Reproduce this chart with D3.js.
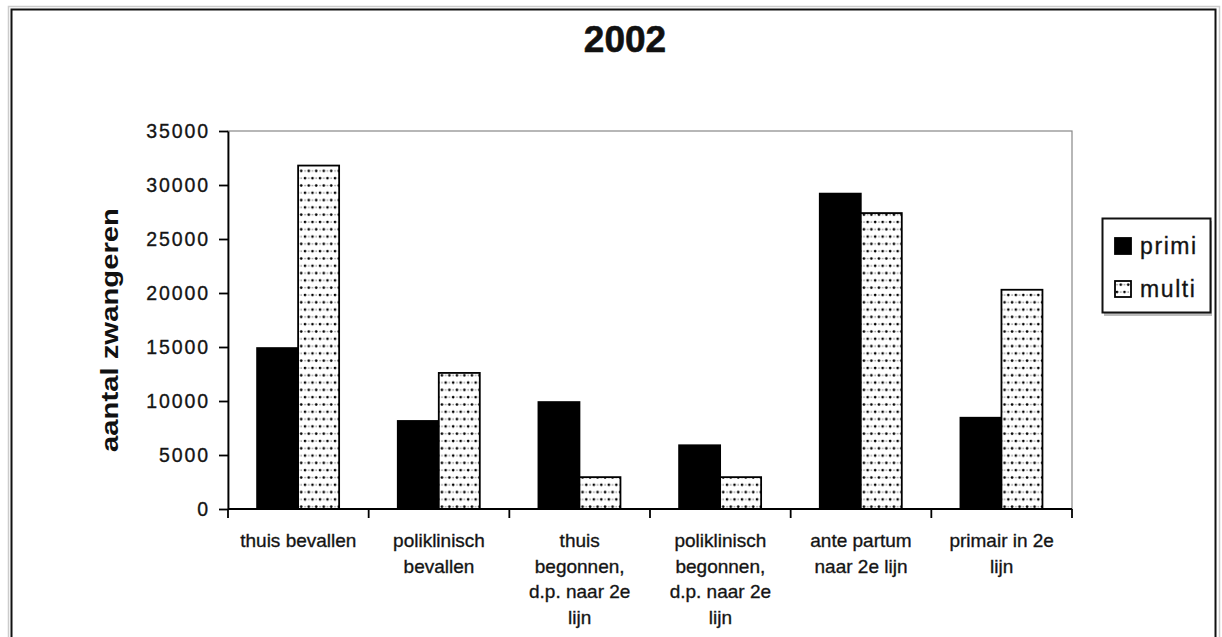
<!DOCTYPE html>
<html>
<head>
<meta charset="utf-8">
<script src="https://cdn.jsdelivr.net/npm/d3@7"></script>
<style>
    body { margin: 0; background: #fff; }
    text { font-family: "Liberation Sans", Arial, sans-serif; fill: #111; }
</style>
</head>
<body>
<div id="chart"></div>
<script>
// chart data
const title = "2002";
const yLabel = "aantal zwangeren";
const categories = [
    "thuis bevallen",
    "poliklinisch bevallen",
    "thuis begonnen, d.p. naar 2e lijn",
    "poliklinisch begonnen, d.p. naar 2e lijn",
    "ante partum naar 2e lijn",
    "primair in 2e lijn"
];
// how each category label wraps under the axis
const categoryLines = [
    ["thuis bevallen"],
    ["poliklinisch", "bevallen"],
    ["thuis", "begonnen,", "d.p. naar 2e", "lijn"],
    ["poliklinisch", "begonnen,", "d.p. naar 2e", "lijn"],
    ["ante partum", "naar 2e lijn"],
    ["primair in 2e", "lijn"]
];
const series = ["primi", "multi"];
const primi = [14900, 8150, 9900, 5900, 29200, 8450];
const multi = [31800, 12600, 2950, 2950, 27400, 20300];
const yTicks = [0, 5000, 10000, 15000, 20000, 25000, 30000, 35000];

const width = 1222;
const height = 637;
const margin = { top: 131, right: 150, bottom: 128, left: 228 };

const svg = d3.select("#chart").append("svg")
    .attr("width", width)
    .attr("height", height);

// dotted fill used for "multi"
const defs = svg.append("defs");
const pat = defs.append("pattern")
    .attr("id", "dots")
    .attr("patternUnits", "userSpaceOnUse")
    .attr("width", 7.5)
    .attr("height", 14.6);
pat.append("rect").attr("width", 7.5).attr("height", 14.6).attr("fill", "#fff");
pat.append("circle").attr("cx", 2).attr("cy", 3).attr("r", 1.35).attr("fill", "#000");
pat.append("circle").attr("cx", 5.75).attr("cy", 10.3).attr("r", 1.35).attr("fill", "#000");
pat.append("circle").attr("cx", 5.75).attr("cy", 3).attr("r", 0.9).attr("fill", "#999");
pat.append("circle").attr("cx", 2).attr("cy", 10.3).attr("r", 0.9).attr("fill", "#999");

// outer chart frame
svg.append("rect")
    .attr("x", 8.5).attr("y", 6.5)
    .attr("width", 1211).attr("height", 700)
    .attr("fill", "none").attr("stroke", "#ccc").attr("stroke-width", 1.5);
svg.append("rect")
    .attr("x", 11.5).attr("y", 9.5)
    .attr("width", 1204).attr("height", 700)
    .attr("fill", "none").attr("stroke", "#111").attr("stroke-width", 2);

svg.append("text")
    .attr("x", 625)
    .attr("y", 52)
    .attr("text-anchor", "middle")
    .attr("font-size", 37)
    .attr("font-weight", "bold")
    .attr("stroke", "#111")
    .attr("stroke-width", 0.6)
    .text(title);

const x = d3.scaleBand()
    .domain(categories)
    .range([margin.left, width - margin.right]);

const x1 = d3.scaleBand()
    .domain(series)
    .range([x.bandwidth() * 0.207, x.bandwidth() * 0.79]);

const y = d3.scaleLinear()
    .domain([0, 35000])
    .range([height - margin.bottom, margin.top]);

// plot area outline (grey top / right)
svg.append("rect")
    .attr("x", margin.left)
    .attr("y", margin.top)
    .attr("width", width - margin.right - margin.left)
    .attr("height", height - margin.bottom - margin.top)
    .attr("fill", "#fff")
    .attr("stroke", "#888")
    .attr("stroke-width", 1.2);

const rows = categories.map((c, i) => ({ cat: c, primi: primi[i], multi: multi[i] }));

const groups = svg.append("g")
    .selectAll("g")
    .data(rows)
    .join("g")
    .attr("transform", d => `translate(${x(d.cat)},0)`);

groups.selectAll("rect")
    .data(d => series.map(s => ({ key: s, value: d[s] })))
    .join("rect")
    .attr("x", d => x1(d.key))
    .attr("y", d => y(d.value))
    .attr("width", x1.bandwidth())
    .attr("height", d => y(0) - y(d.value))
    .attr("fill", d => d.key === "primi" ? "#000" : "url(#dots)")
    .attr("stroke", "#000")
    .attr("stroke-width", 1.8);

// y axis
svg.append("g")
    .attr("transform", `translate(${margin.left},0)`)
    .call(d3.axisLeft(y).tickValues(yTicks).tickFormat(d3.format("d")).tickSize(9).tickSizeOuter(0).tickPadding(9))
    .call(g => g.select(".domain").attr("stroke", "#000").attr("stroke-width", 1.8))
    .call(g => g.selectAll(".tick line").attr("stroke", "#000").attr("stroke-width", 1.8))
    .call(g => g.selectAll(".tick text")
        .attr("font-family", "Liberation Sans, Arial, sans-serif")
        .attr("font-size", 19.5)
        .attr("letter-spacing", 1.9)
        .attr("stroke", "#222")
        .attr("stroke-width", 0.35)
        .attr("fill", "#111"));

// x axis: baseline plus ticks between categories
const xAxisY = y(0);
svg.append("line")
    .attr("x1", margin.left).attr("x2", width - margin.right)
    .attr("y1", xAxisY).attr("y2", xAxisY)
    .attr("stroke", "#000").attr("stroke-width", 1.8);

const bounds = categories.map(c => x(c)).concat([x.range()[1]]);
svg.append("g")
    .selectAll("line")
    .data(bounds)
    .join("line")
    .attr("x1", d => d).attr("x2", d => d)
    .attr("y1", xAxisY).attr("y2", xAxisY + 9)
    .attr("stroke", "#000")
    .attr("stroke-width", 1.8);

const labels = svg.append("g")
    .selectAll("text")
    .data(categories)
    .join("text")
    .attr("text-anchor", "middle")
    .attr("font-size", 19)
    .attr("stroke", "#222")
    .attr("stroke-width", 0.35)
    .attr("transform", d => `translate(${x(d) + x.bandwidth() / 2},${xAxisY + 38})`);

labels.selectAll("tspan")
    .data((d, i) => categoryLines[i])
    .join("tspan")
    .attr("x", 0)
    .attr("y", (d, i) => i * 25.5)
    .text(d => d);

// y axis title
svg.append("text")
    .attr("transform", `translate(118,330) rotate(-90)`)
    .attr("text-anchor", "middle")
    .attr("font-size", 23)
    .attr("font-weight", "bold")
    .attr("textLength", 244)
    .attr("lengthAdjust", "spacingAndGlyphs")
    .text(yLabel);

// legend
const legend = svg.append("g");
legend.append("rect")
    .attr("x", 1104).attr("y", 221)
    .attr("width", 108).attr("height", 95)
    .attr("fill", "#bbb");
legend.append("rect")
    .attr("x", 1102.5).attr("y", 218.5)
    .attr("width", 108).attr("height", 94)
    .attr("fill", "#fff")
    .attr("stroke", "#111")
    .attr("stroke-width", 2);

const ly = d3.scalePoint()
    .domain(series)
    .range([246, 289]);

const items = legend.selectAll("g.item")
    .data(series)
    .join("g")
    .attr("class", "item")
    .attr("transform", d => `translate(1115,${ly(d)})`);

items.append("rect")
    .attr("x", 0).attr("y", -8)
    .attr("width", 16).attr("height", 16)
    .attr("fill", d => d === "primi" ? "#000" : "url(#dots)")
    .attr("stroke", "#000")
    .attr("stroke-width", 1.8);

items.append("text")
    .attr("x", 25)
    .attr("y", 8)
    .attr("font-size", 23)
    .attr("letter-spacing", 1.6)
    .attr("stroke", "#222")
    .attr("stroke-width", 0.35)
    .text(d => d);
</script>
</body>
</html>
